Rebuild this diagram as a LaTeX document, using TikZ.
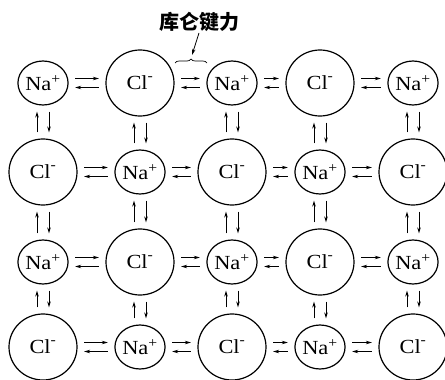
\documentclass[tikz,border=0pt]{standalone}
\usepackage{fontspec}
\setmainfont{Liberation Serif}[FakeStretch=1.12]
\newfontfamily\cjk{Noto Sans CJK SC}
\usetikzlibrary{arrows.meta,shapes.geometric,decorations.pathreplacing}
\begin{document}
\begin{tikzpicture}[x=1pt,y=-1pt,
  ion/.style={draw, ellipse, line width=1.2pt, inner sep=0pt,
    font=\fontsize{20}{20}\selectfont},
  na/.style={ion, minimum width=50pt, minimum height=44pt},
  cl/.style={ion, minimum width=68pt, minimum height=66pt},
  arr/.style={line width=0.9pt, -{Stealth[length=6pt,width=3.5pt]}},
  harr/.style={arr, shorten <=6.5pt, shorten >=6.5pt},
  varr/.style={arr, shorten <=6pt, shorten >=6pt},
]
\useasboundingbox (0,0) rectangle (445,380);
\foreach \r/\y in {1/83,2/172,3/262,4/347}{
  \foreach \c/\x in {1/43,2/140,3/232,4/320,5/413}{
    \pgfmathtruncatemacro\pty{mod(\r+\c,2)}
    \ifnum\pty=0
      \node[na] (n-\r-\c) at (\x,\y) {Na\textsuperscript{+}};
    \else
      \node[cl] (n-\r-\c) at (\x,\y) {Cl\textsuperscript{\raisebox{0.35ex}{-}}};
    \fi
  }
}
% horizontal pairs
\foreach \r in {1,2,3,4}{
  \foreach \c [evaluate=\c as \cc using int(\c+1)] in {1,2,3,4}{
    \draw[harr] ([yshift=4.5pt]n-\r-\c.east) -- ([yshift=4.5pt]n-\r-\cc.west);
    \draw[harr] ([yshift=-4.5pt]n-\r-\cc.west) -- ([yshift=-4.5pt]n-\r-\c.east);
  }
}
% vertical pairs
\foreach \r [evaluate=\r as \rr using int(\r+1)] in {1,2,3}{
  \foreach \c in {1,2,3,4,5}{
    \draw[varr] ([xshift=-6pt]n-\rr-\c.north) -- ([xshift=-6pt]n-\r-\c.south);
    \draw[varr] ([xshift=6pt]n-\r-\c.south) -- ([xshift=6pt]n-\rr-\c.north);
  }
}
% label with brace
\draw[decorate, decoration={brace, amplitude=4pt}, line width=0.7pt] (175,63) -- (207,63);
\coordinate (bt) at (192,55);
\node[font=\cjk\bfseries\fontsize{20}{20}\selectfont, inner sep=1pt] (lbl) at (199,22) {库仑键力};
\draw[arr, line width=0.8pt] (lbl.south) -- (bt);
\end{tikzpicture}
\end{document}
